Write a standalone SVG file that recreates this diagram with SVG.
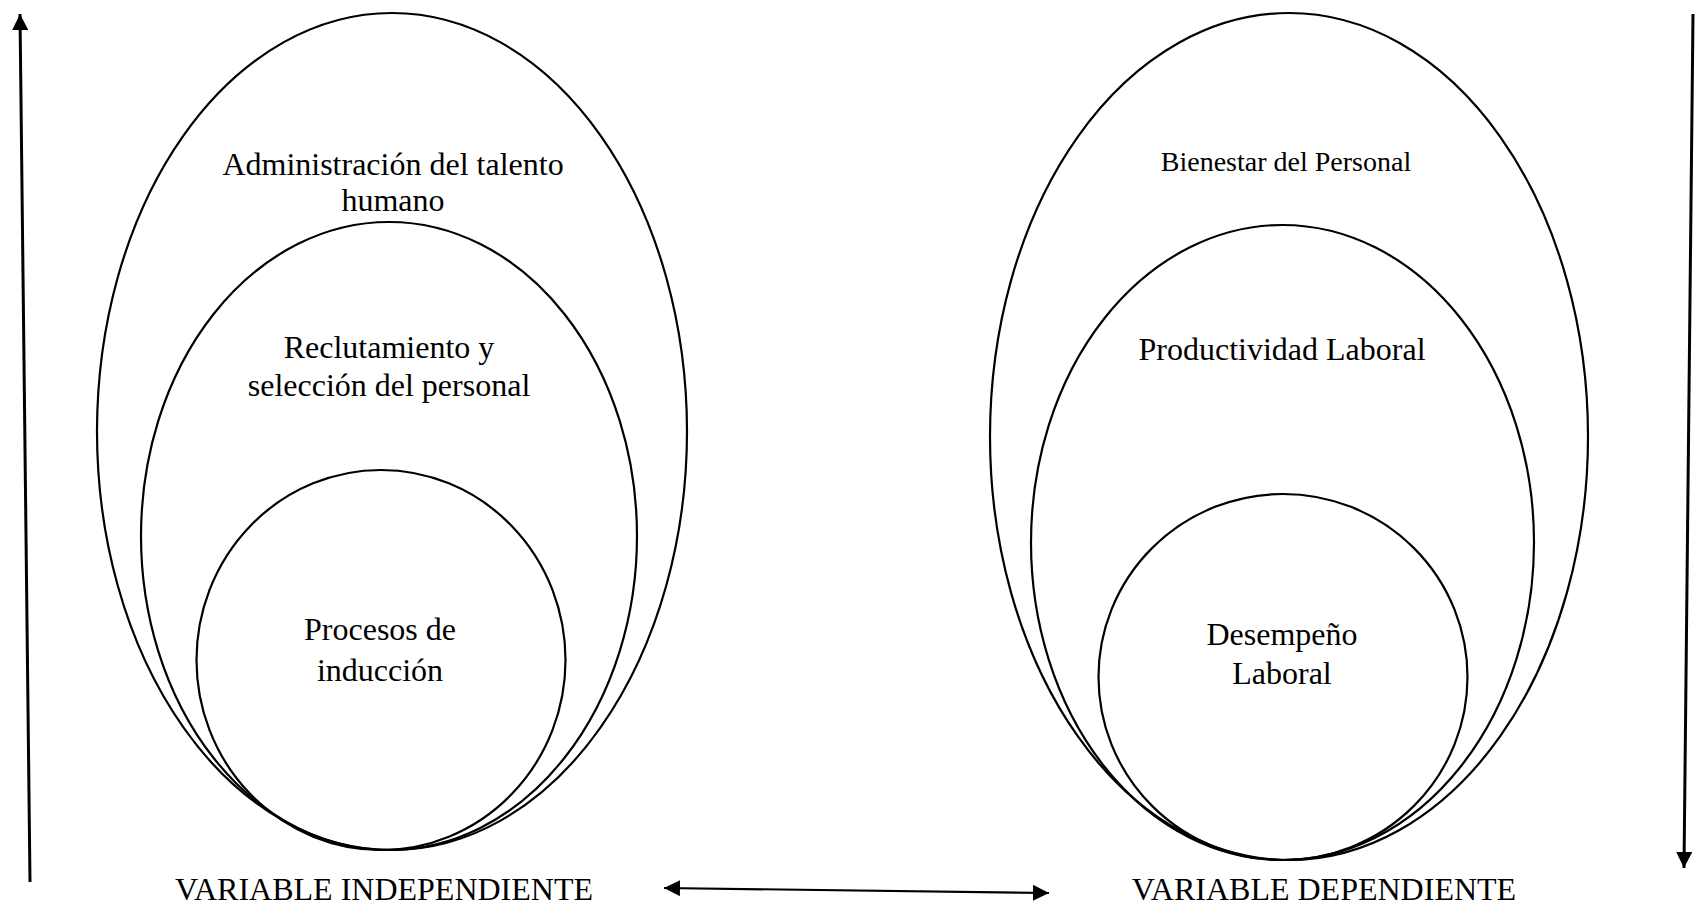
<svg xmlns="http://www.w3.org/2000/svg" width="1702" height="907" viewBox="0 0 1702 907">
  <style>
    .ring { fill: none; stroke: #000; stroke-width: 2.2; }
    .label { font-family: "Liberation Serif", "Times New Roman", serif; font-size: 32px; fill: #000; text-anchor: middle; }
    .small { font-size: 28px; }
    .axis { stroke: #000; stroke-width: 3; fill: none; }
    .link { stroke: #000; stroke-width: 2.2; fill: none; }
  </style>
  <defs>
    <marker id="head" markerUnits="userSpaceOnUse" markerWidth="16" markerHeight="16" refX="16" refY="8" orient="auto">
      <path d="M0,0 L16,8 L0,16 z" fill="#000"/>
    </marker>
    <marker id="tail" markerUnits="userSpaceOnUse" markerWidth="16" markerHeight="16" refX="0" refY="8" orient="auto">
      <path d="M16,0 L0,8 L16,16 z" fill="#000"/>
    </marker>
  </defs>
  <rect width="1702" height="907" fill="#fff"/>

  <!-- Independent variable: nested levels -->
  <g id="admin-talento">
    <ellipse class="ring" cx="392" cy="431.5" rx="295" ry="418.5"/>
    <text class="label" x="393" y="175">Administración del talento</text>
    <text class="label" x="393" y="211">humano</text>
  </g>
  <g id="reclutamiento">
    <ellipse class="ring" cx="389" cy="536" rx="248" ry="314"/>
    <text class="label" x="389" y="358">Reclutamiento y</text>
    <text class="label" x="389" y="396">selección del personal</text>
  </g>
  <g id="induccion">
    <ellipse class="ring" cx="381" cy="660" rx="184.5" ry="190"/>
    <text class="label" x="380" y="640">Procesos de</text>
    <text class="label" x="380" y="681">inducción</text>
  </g>
  <g id="var-independiente">
    <text class="label" x="384" y="900">VARIABLE INDEPENDIENTE</text>
  </g>

  <!-- Dependent variable: nested levels -->
  <g id="bienestar">
    <ellipse class="ring" cx="1289" cy="436.5" rx="299" ry="423.5"/>
    <text class="label small" x="1286" y="171">Bienestar del Personal</text>
  </g>
  <g id="productividad">
    <ellipse class="ring" cx="1282.5" cy="542.5" rx="251.5" ry="317.5"/>
    <text class="label" x="1282" y="360">Productividad Laboral</text>
  </g>
  <g id="desempeno">
    <ellipse class="ring" cx="1283" cy="677" rx="184.5" ry="183"/>
    <text class="label" x="1282" y="645">Desempeño</text>
    <text class="label" x="1282" y="684">Laboral</text>
  </g>
  <g id="var-dependiente">
    <text class="label" x="1324" y="900">VARIABLE DEPENDIENTE</text>
  </g>

  <!-- Connectors -->
  <g id="connectors">
    <line class="axis" x1="30" y1="882" x2="20" y2="14" marker-end="url(#head)"/>
    <line class="axis" x1="1693" y1="14" x2="1684" y2="868" marker-end="url(#head)"/>
    <line class="link" x1="664" y1="888" x2="1049" y2="893" marker-start="url(#tail)" marker-end="url(#head)"/>
  </g>
</svg>
